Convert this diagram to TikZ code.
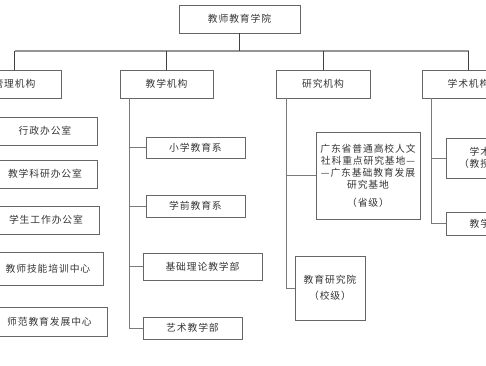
\documentclass[tikz,border=0pt]{standalone}
\usepackage{fontspec}
\setmainfont{Noto Sans CJK SC}[LetterSpace=9]
\usepackage{tikz}
\usetikzlibrary{shadows}
\definecolor{txtgray}{HTML}{363636}
\definecolor{linegray}{HTML}{7A7A7A}
\tikzset{
  box/.style  = {draw=black!60, line width=0.7pt, fill=white, text=txtgray,
                 inner sep=1pt, align=center, font=\fontsize{9.8}{12.2}\selectfont,
                 drop shadow={shadow xshift=0.6pt, shadow yshift=-0.6pt, opacity=0.7, fill=black!55}},
  wire/.style = {draw=linegray, line width=0.8pt},
  bus/.style  = {draw=linegray!80, line width=1.6pt},
  drop/.style = {draw=black!75, line width=0.7pt},
}
\begin{document}
\begin{tikzpicture}[x=1pt,y=-1pt]
  \useasboundingbox (0,0) rectangle (486,365);
  \clip (0,0) rectangle (486,365);
  % top level
  \node[box, minimum width=121, minimum height=28] (root) at (239.5,19) {教师教育学院};
  \node[box, minimum width=93, minimum height=28] (mgmt)  at (14.5,84)  {管理机构};
  \node[box, minimum width=93, minimum height=28] (teach) at (166.5,84) {教学机构};
  \node[box, minimum width=94, minimum height=28] (res)   at (323,84)   {研究机构};
  \node[box, minimum width=93, minimum height=28] (acad)  at (468.5,84) {学术机构};
  \coordinate (busL) at (14.5,51);
  \coordinate (busR) at (468.5,51);
  \draw[bus] (busL) -- (busR);
  \draw[drop] (root) -- (root|-busL);
  \foreach \n in {mgmt,teach,res,acad}
    \draw[drop] (\n) -- (\n|-busL);
  % management offices
  \node[box, minimum width=104, minimum height=28] (l1) at (45,131)    {行政办公室};
  \node[box, minimum width=104, minimum height=28] (l2) at (45,174)    {教学科研办公室};
  \node[box, minimum width=106, minimum height=28] (l3) at (46,220)    {学生工作办公室};
  \node[box, minimum width=110, minimum height=33] (l4) at (48,268.5)  {教师技能培训中心};
  \node[box, minimum width=115, minimum height=29] (l5) at (49.5,321.5) {师范教育发展中心};
  % teaching units
  \node[box, minimum width=99, minimum height=21]  (t1) at (195.5,147.5) {小学教育系};
  \node[box, minimum width=99, minimum height=22]  (t2) at (195.5,206)   {学前教育系};
  \node[box, minimum width=119, minimum height=27] (t3) at (202.5,266.5) {基础理论教学部};
  \node[box, minimum width=99, minimum height=22]  (t4) at (192.5,328)   {艺术教学部};
  \coordinate (teachspine) at (129,98);
  \foreach \n in {t1,t2,t3,t4}
    \draw[wire] (teachspine) |- (\n);
  % research units
  \node[box, minimum width=104, minimum height=87] (r1) at (368,175.5)
    {广东省普通高校人文\\社科重点研究基地—\\—广东基础教育发展\\研究基地\\[5pt]（省级）};
  \node[box, minimum width=70, minimum height=64] (r2) at (330,288)
    {教育研究院\\[4pt]（校级）};
  \coordinate (resspine) at (286,98);
  \foreach \n in {r1,r2}
    \draw[wire] (resspine) |- (\n);
  % academic committees
  \node[box, minimum width=100, minimum height=40] (a1) at (496,158)   {学术委员会\\（教授委员会）};
  \node[box, minimum width=100, minimum height=23] (a2) at (496,223.5) {教学委员会};
  \coordinate (acadspine) at (431,98);
  \foreach \n in {a1,a2}
    \draw[wire] (acadspine) |- (\n);
\end{tikzpicture}
\end{document}
